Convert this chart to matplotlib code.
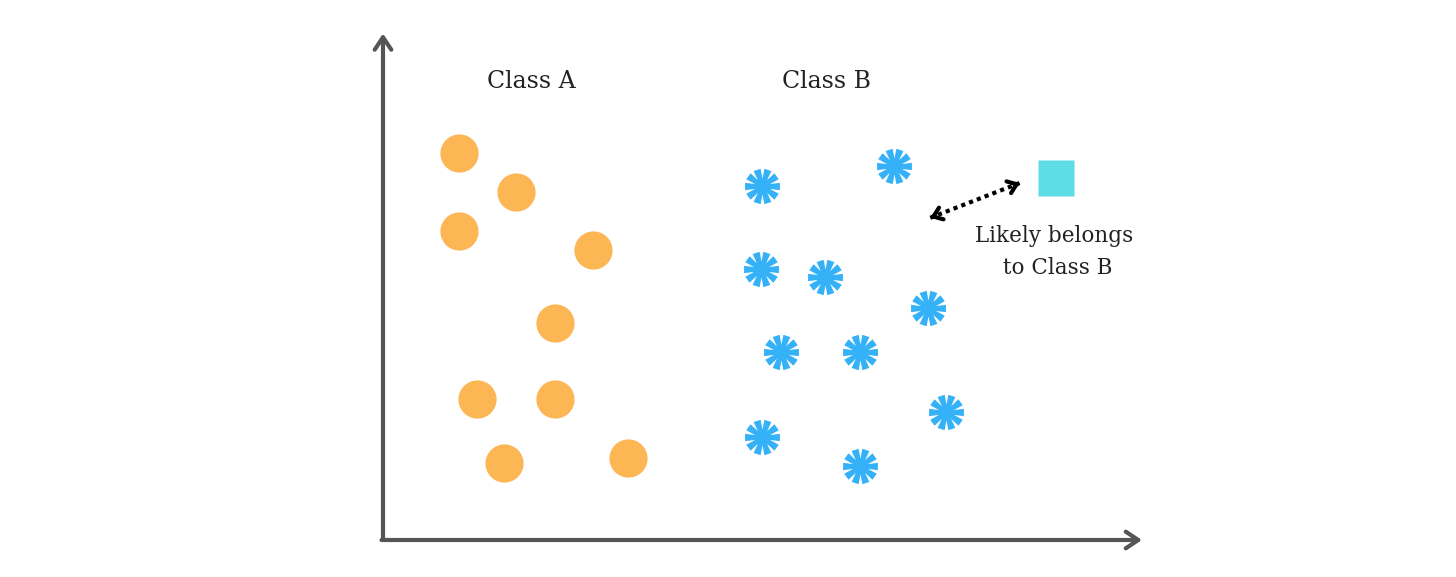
import numpy as np
import matplotlib
matplotlib.use("Agg")
import matplotlib.pyplot as plt
from matplotlib.path import Path

# Class A (orange circles)
claseA_x = [1.00, 1.75, 1.00, 2.77, 2.27, 1.24, 2.27, 1.59, 3.23]
claseA_y = [7.66, 6.89, 6.12, 5.74, 4.30, 2.79, 2.79, 1.52, 1.62]

# Class B (blue stars)
claseB_x = [4.99, 6.73, 4.98, 5.82, 7.18, 5.24, 6.28, 7.42, 4.99, 6.28]
claseB_y = [7.01, 7.41, 5.37, 5.21, 4.59, 3.72, 3.72, 2.53, 2.04, 1.47]

# new point
nuevo_x = [8.87]
nuevo_y = [7.17]

# dotted arrow between new point and class B
flecha_ini = (7.21, 6.38)
flecha_fin = (8.39, 7.07)

titulos = ["Class A", "Class B"]
titulos_x = [1.96, 5.84]
titulo_y = 9.07
nota = "Likely belongs\n to Class B"


def marcadorAsterisco(puntas=10, ancho=0.14, ancho_punta=0.21):
    # asterisk shape as one closed polygon
    paso = 2 * np.pi / puntas
    r_in = ancho / np.sin(paso / 2)
    verts = []
    for k in range(puntas):
        a = k * paso
        d = np.array([np.cos(a), np.sin(a)])
        p = np.array([-np.sin(a), np.cos(a)])
        an = a - paso / 2
        verts.append(r_in * np.array([np.cos(an), np.sin(an)]))
        verts.append(d - ancho_punta * p)
        verts.append(d + ancho_punta * p)
    verts.append(verts[0])
    codes = [Path.MOVETO] + [Path.LINETO] * (len(verts) - 2) + [Path.CLOSEPOLY]
    return Path(verts, codes)


fig = plt.figure(figsize=(14.56, 5.77), dpi=100)
ax = fig.add_axes([383 / 1456, 37 / 577, 759 / 1456, 505 / 577])
ax.set_xlim(0, 10)
ax.set_ylim(0, 10)
ax.set_axis_off()

gris = '#555555'
# axes drawn as arrows
ax.annotate('', xy=(0, 1.003), xytext=(0, 0), xycoords='axes fraction',
            arrowprops=dict(arrowstyle='->, head_length=0.9, head_width=0.6',
                            mutation_scale=10, lw=3, color=gris,
                            shrinkA=0, shrinkB=0),
            annotation_clip=False)
ax.annotate('', xy=(1.0, 0), xytext=(-0.002, 0), xycoords='axes fraction',
            arrowprops=dict(arrowstyle='->, head_length=0.9, head_width=0.6',
                            mutation_scale=10, lw=3, color=gris,
                            shrinkA=0, shrinkB=0),
            annotation_clip=False)

ax.plot(claseA_x, claseA_y, 'o', ms=27.5, color='#fdb654', mec='none')
ax.plot(claseB_x, claseB_y, ls='none', marker=marcadorAsterisco(), ms=25.5,
        color='#35b2f7', mec='none')
ax.plot(nuevo_x, nuevo_y, 's', ms=25.5, color='#5cdde6', mec='none')

# dotted double arrow
ax.plot([flecha_ini[0], flecha_fin[0]], [flecha_ini[1], flecha_fin[1]],
        color='black', lw=3, ls=(0, (1, 1)))
d = np.array(flecha_fin) - np.array(flecha_ini)
d = d / np.linalg.norm(d) * 0.05
for extremo, signo in [(flecha_fin, 1), (flecha_ini, -1)]:
    ax.annotate('', xy=extremo, xytext=(extremo[0] - signo * d[0], extremo[1] - signo * d[1]),
                arrowprops=dict(arrowstyle='->, head_length=0.6, head_width=0.45',
                                mutation_scale=10, lw=3, color='black',
                                shrinkA=0, shrinkB=0))

for t, x in zip(titulos, titulos_x):
    ax.text(x, titulo_y, t, ha='center', va='center', fontsize=17,
            family='DejaVu Serif', color='#222222')
ax.text(8.84, 5.70, nota, ha='center', va='center', fontsize=15.5,
        family='DejaVu Serif', color='#222222', linespacing=1.55)

fig.savefig('out.png', dpi=100)
